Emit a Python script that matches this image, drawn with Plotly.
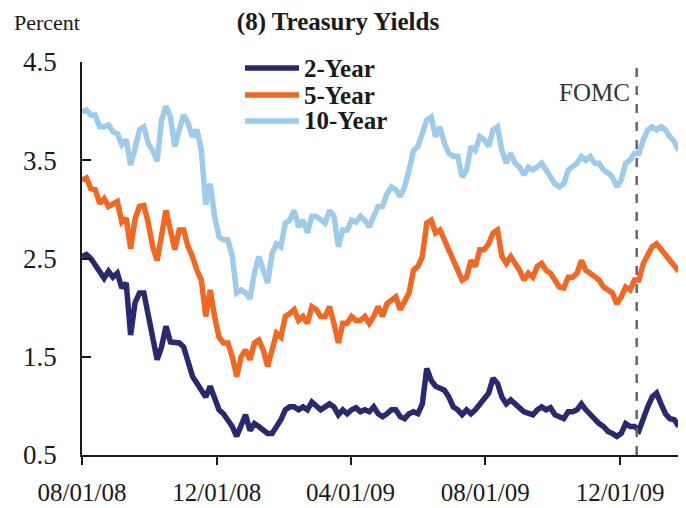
from plotly import graph_objects as go
import pandas as pd

# readings every 4 days starting 08/01/08
dates = pd.date_range("2008-08-01", periods=136, freq="4D")

yield_2y = [
    2.52, 2.54, 2.50, 2.43, 2.35, 2.30, 2.37, 2.31, 2.35, 2.20, 2.25, 1.72,
    2.05, 2.15, 2.15, 1.91, 1.64, 1.47, 1.60, 1.81, 1.65, 1.64, 1.64,
    1.60, 1.43, 1.30, 1.23, 1.16, 1.09, 1.20, 1.06, 0.96, 0.92, 0.86, 0.79,
    0.69, 0.79, 0.91, 0.75, 0.82, 0.79, 0.75, 0.72, 0.72, 0.79,
    0.86, 0.96, 0.99, 0.99, 0.96, 0.99, 0.96, 1.04, 0.99, 0.96, 0.99, 1.02,
    0.99, 0.91, 0.96, 0.92, 0.96, 0.98, 0.94, 0.96, 0.94, 0.99, 0.92,
    0.89, 0.92, 0.96, 0.96, 0.89, 0.87, 0.92, 0.94, 0.92, 1.02, 1.38, 1.26,
    1.20, 1.18, 1.16, 1.09, 0.99, 0.96, 0.91, 0.96, 0.92, 0.96, 1.02,
    1.06, 1.13, 1.28, 1.23, 1.09, 1.02, 1.06, 1.01, 0.98, 0.94, 0.92, 0.91,
    0.96, 0.99, 0.96, 0.98, 0.91, 0.89, 0.87, 0.94, 0.94, 0.96, 1.02,
    0.96, 0.91, 0.86, 0.82, 0.79, 0.74, 0.72, 0.69, 0.72, 0.82, 0.79,
    0.79, 0.75, 0.89, 0.99, 1.09, 1.13, 1.02, 0.92, 0.87, 0.86, 0.79,
]

yield_5y = [
    3.30, 3.32, 3.21, 3.20, 3.06, 3.11, 3.03, 3.06, 3.08, 2.87, 2.91, 2.60,
    2.90, 3.03, 3.04, 2.86, 2.62, 2.48, 2.76, 2.99, 2.79, 2.59, 2.79,
    2.79, 2.62, 2.52, 2.38, 2.28, 1.91, 2.18, 1.91, 1.70, 1.64, 1.64, 1.50,
    1.30, 1.50, 1.57, 1.47, 1.64, 1.67, 1.57, 1.40, 1.60, 1.74,
    1.70, 1.91, 1.94, 1.98, 1.87, 1.91, 1.84, 2.01, 1.98, 1.91, 1.91, 2.01,
    1.84, 1.64, 1.84, 1.84, 1.91, 1.87, 1.87, 1.91, 1.84, 1.91, 2.01,
    1.91, 2.04, 2.08, 2.11, 1.98, 2.08, 2.15, 2.38, 2.42, 2.52, 2.86, 2.89,
    2.76, 2.79, 2.69, 2.59, 2.48, 2.38, 2.28, 2.31, 2.48, 2.42, 2.59,
    2.59, 2.65, 2.76, 2.79, 2.52, 2.45, 2.52, 2.45, 2.38, 2.28, 2.35, 2.31,
    2.42, 2.45, 2.38, 2.35, 2.28, 2.21, 2.20, 2.31, 2.31, 2.35, 2.48,
    2.38, 2.35, 2.31, 2.28, 2.21, 2.18, 2.15, 2.04, 2.11, 2.21, 2.18,
    2.28, 2.28, 2.45, 2.55, 2.62, 2.65, 2.59, 2.55, 2.48, 2.42, 2.37,
]

yield_10y = [
    3.99, 4.01, 3.96, 3.96, 3.84, 3.84, 3.86, 3.79, 3.77, 3.66, 3.71, 3.45,
    3.62, 3.81, 3.84, 3.67, 3.60, 3.49, 3.91, 4.05, 3.94, 3.64, 3.81,
    3.96, 3.88, 3.74, 3.81, 3.60, 3.05, 3.26, 2.93, 2.72, 2.69, 2.69, 2.52,
    2.15, 2.18, 2.15, 2.09, 2.35, 2.52, 2.38, 2.25, 2.55, 2.65,
    2.62, 2.86, 2.89, 2.99, 2.82, 2.89, 2.76, 2.93, 2.93, 2.89, 2.86, 2.99,
    2.93, 2.62, 2.79, 2.79, 2.89, 2.87, 2.93, 2.89, 2.82, 2.93, 3.03,
    3.03, 3.16, 3.23, 3.20, 3.13, 3.23, 3.40, 3.60, 3.64, 3.77, 3.91, 3.94,
    3.74, 3.84, 3.67, 3.57, 3.54, 3.54, 3.33, 3.40, 3.64, 3.60, 3.74,
    3.71, 3.64, 3.81, 3.84, 3.60, 3.47, 3.57, 3.47, 3.43, 3.35, 3.43, 3.40,
    3.43, 3.47, 3.40, 3.33, 3.26, 3.23, 3.26, 3.40, 3.43, 3.47, 3.54,
    3.50, 3.54, 3.47, 3.47, 3.40, 3.37, 3.33, 3.23, 3.30, 3.47, 3.50,
    3.57, 3.57, 3.71, 3.81, 3.84, 3.81, 3.84, 3.81, 3.74, 3.69, 3.60,
]

series_names = ["2-Year", "5-Year", "10-Year"]
series_colors = ["#28296e", "#f26722", "#9ecbeb"]

x_tick_dates = ["2008-08-01", "2008-12-01", "2009-04-01", "2009-08-01", "2009-12-01"]
x_tick_text = ["08/01/08", "12/01/08", "04/01/09", "08/01/09", "12/01/09"]
y_tick_vals = [0.5, 1.5, 2.5, 3.5, 4.5]
y_tick_text = ["0.5", "1.5", "2.5", "3.5", "4.5"]

fomc_date = "2009-12-16"

SERIF = "Liberation Serif, Times New Roman, serif"
# the page body has an 8px margin, so the figure is drawn 8px in and 8px down
OFF = 8
W, H = 686 - OFF, 508 - OFF
L, R, T, B = 82 - OFF, 4, 62 - OFF, 53

PLOT_LEFT, PLOT_RIGHT, PLOT_TOP, PLOT_BOTTOM = 82, 682, 62, 455


def px_x(x):
    # page pixel -> paper x
    return (x - PLOT_LEFT) / (PLOT_RIGHT - PLOT_LEFT)


def px_y(y):
    # page pixel -> paper y
    return (PLOT_BOTTOM - y) / (PLOT_BOTTOM - PLOT_TOP)


fig = go.Figure()

for name, values, color in zip(series_names, [yield_2y, yield_5y, yield_10y], series_colors):
    fig.add_trace(
        go.Scatter(
            x=dates,
            y=values,
            mode="lines",
            name=name,
            line={"color": color, "width": 5.5},
            showlegend=False,
        )
    )

# legend drawn by hand: thick sample line plus bold label
legend_rows = [68, 95, 121]
for name, color, row in zip(series_names, series_colors, legend_rows):
    fig.add_shape(
        type="line",
        xref="paper", yref="paper",
        x0=px_x(245), x1=px_x(299), y0=px_y(row), y1=px_y(row),
        line={"color": color, "width": 5.5},
    )
    fig.add_annotation(
        text=f"<b>{name}</b>",
        xref="paper", yref="paper",
        x=px_x(302), y=px_y(row), xanchor="left", yanchor="middle",
        showarrow=False,
        font={"family": SERIF, "size": 25, "color": "#1a1a1a"},
    )

# FOMC marker
fig.add_shape(
    type="line",
    xref="x", yref="paper",
    x0=fomc_date, x1=fomc_date, y0=0, y1=1.0,
    line={"color": "#666666", "width": 2.5, "dash": "dash"},
)
fig.add_annotation(
    text="FOMC",
    xref="x", yref="paper",
    x=fomc_date, y=px_y(92), xanchor="right", yanchor="middle", xshift=-5,
    showarrow=False,
    font={"family": SERIF, "size": 25, "color": "#333333"},
)

fig.add_annotation(
    text="Percent",
    xref="paper", yref="paper",
    x=px_x(12), y=px_y(23), xanchor="left", yanchor="middle",
    showarrow=False,
    font={"family": SERIF, "size": 22, "color": "#1a1a1a"},
)

fig.update_layout(
    width=W,
    height=H,
    margin={"l": L, "r": R, "t": T, "b": B},
    paper_bgcolor="white",
    plot_bgcolor="white",
    title={
        "text": "<b>(8) Treasury Yields</b>",
        "x": (338 - OFF) / W,
        "xanchor": "center",
        "y": 1 - (21 - OFF) / H,
        "yanchor": "middle",
        "font": {"family": SERIF, "size": 25, "color": "#1a1a1a"},
    },
    xaxis={
        "type": "date",
        "range": ["2008-08-01", "2010-01-26"],
        "tickvals": x_tick_dates,
        "ticktext": x_tick_text,
        "ticks": "outside",
        "ticklen": 8,
        "tickwidth": 1.5,
        "tickcolor": "#1a1a1a",
        "showline": True,
        "linecolor": "#1a1a1a",
        "linewidth": 1.5,
        "showgrid": False,
        "zeroline": False,
        "automargin": False,
        "ticklabelstandoff": 6,
        "tickfont": {"family": SERIF, "size": 25, "color": "#1a1a1a"},
    },
    yaxis={
        "range": [0.5, 4.5],
        "tickvals": y_tick_vals,
        "ticktext": y_tick_text,
        "ticks": "inside",
        "ticklen": 9,
        "tickwidth": 1.5,
        "tickcolor": "#1a1a1a",
        "showline": True,
        "linecolor": "#1a1a1a",
        "linewidth": 1.5,
        "showgrid": False,
        "zeroline": False,
        "automargin": False,
        "ticklabelstandoff": 18,
        "tickfont": {"family": SERIF, "size": 27, "color": "#1a1a1a"},
    },
)

fig.write_html("out.html")
